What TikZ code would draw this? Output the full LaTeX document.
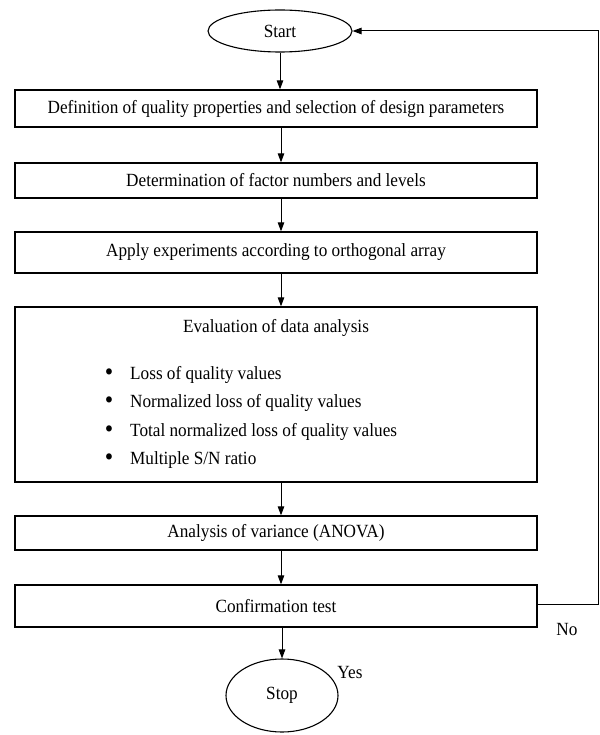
\documentclass[tikz,border=0pt]{standalone}
\usepackage{fontspec}
\setmainfont{Liberation Serif}[FakeStretch=0.925]
\usetikzlibrary{shapes.geometric,arrows.meta}
\begin{document}
\begin{tikzpicture}[x=1pt,y=-1pt,
  every node/.style={font=\fontsize{18.6}{21}\selectfont},
  box/.style={draw, line width=1.3pt, rectangle, minimum width=522pt, inner sep=0pt, anchor=center},
  term/.style={draw, line width=1.1pt, ellipse, inner sep=0pt},
  arr/.style={line width=1pt, -{Triangle[length=9pt,width=6.5pt]}},
  txt/.style={inner sep=0pt},
  bul/.style={inner sep=0pt, font=\fontsize{26}{26}\selectfont}]
\useasboundingbox (0,0) rectangle (599,735);
\node[term, minimum width=144pt, minimum height=42pt] (start) at (280,31) {Start};
\node[box, minimum height=37pt] (b1) at (276,108.5) {Definition of quality properties and selection of design parameters};
\node[box, minimum height=35pt] (b2) at (276,180.5) {Determination of factor numbers and levels};
\node[box, minimum height=41pt] (b3) at (276,252.5) {Apply experiments according to orthogonal array};
\node[box, minimum height=175pt] (b4) at (276,394.5) {};
\node[txt] (t4) at (276,328) {Evaluation of data analysis};
\node[bul] (u1) at (109,375) {\textbullet};
\node[bul] (u2) at (109,403) {\textbullet};
\node[bul] (u3) at (109,432) {\textbullet};
\node[bul] (u4) at (109,460) {\textbullet};
\node[txt, anchor=west] (l1) at (130,375) {Loss of quality values};
\node[txt, anchor=west] (l2) at (130,403) {Normalized loss of quality values};
\node[txt, anchor=west] (l3) at (130,432) {Total normalized loss of quality values};
\node[txt, anchor=west] (l4) at (130,460) {Multiple S/N ratio};
\node[box, minimum height=34pt] (b5) at (276,533) {Analysis of variance (ANOVA)};
\node[box, minimum height=42pt] (b6) at (276,606) {Confirmation test};
\node[term, minimum width=112pt, minimum height=73pt] (stop) at (282,695.5) {Stop};
\node[txt] (yes) at (350,672) {Yes};
\node[txt] (no) at (567,629) {No};
\draw[arr] (start.south) -- (start.south |- b1.north);
\draw[arr] ([xshift=5pt]b1.south) -- ([xshift=5pt]b2.north);
\draw[arr] ([xshift=5pt]b2.south) -- ([xshift=5pt]b3.north);
\draw[arr] ([xshift=5pt]b3.south) -- ([xshift=5pt]b4.north);
\draw[arr] ([xshift=5pt]b4.south) -- ([xshift=5pt]b5.north);
\draw[arr] ([xshift=5pt]b5.south) -- ([xshift=5pt]b6.north);
\draw[arr] ([xshift=6pt]b6.south) -- (stop.north);
\draw[arr] ([yshift=2pt]b6.east) -- ++(61,0) |- (start.east);
\end{tikzpicture}
\end{document}
